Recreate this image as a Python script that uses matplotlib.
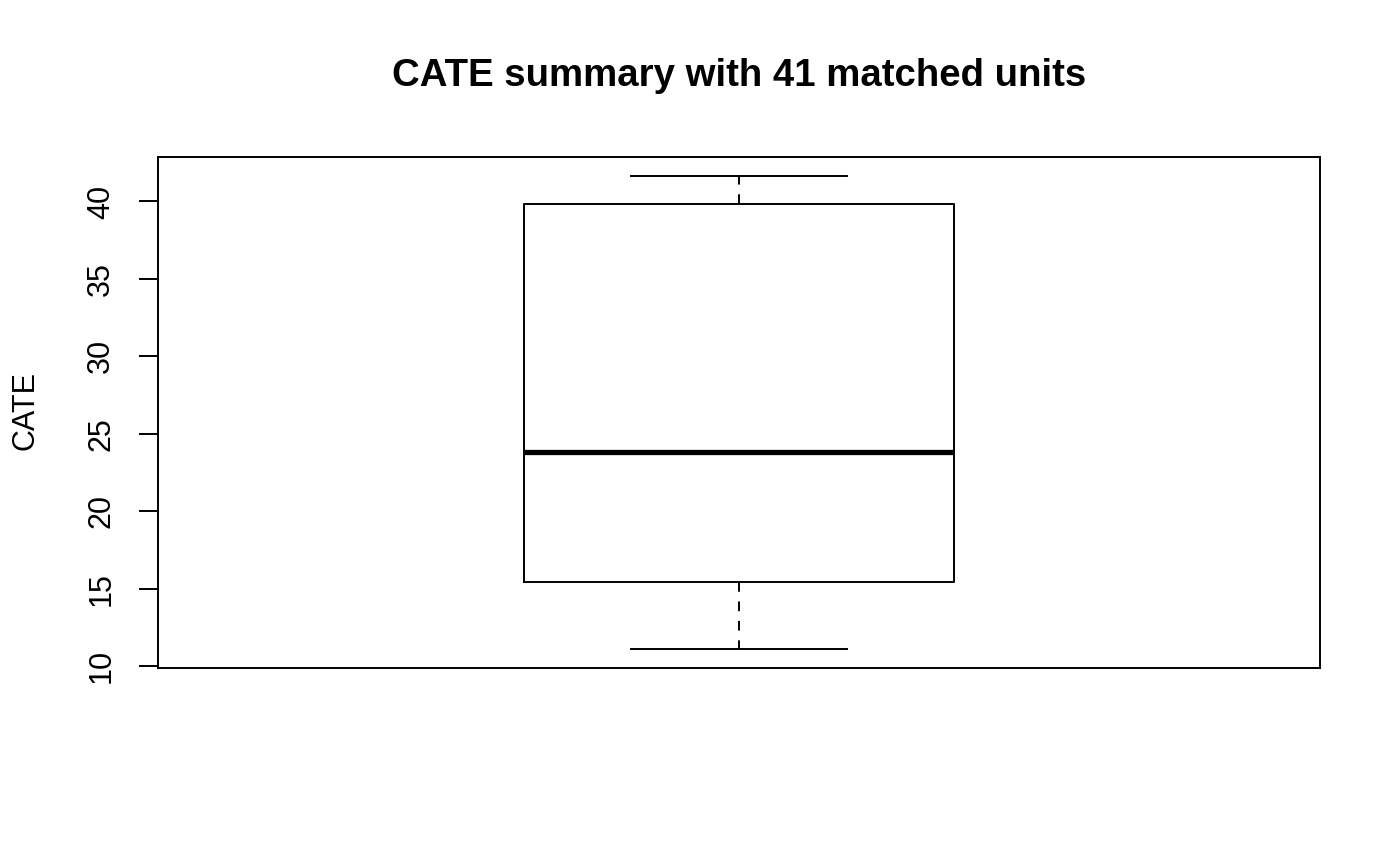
import matplotlib

matplotlib.use("Agg")

import matplotlib.pyplot as plt


# five-number summary of the CATE values
WHISKER_LOW = 11.1
Q1 = 15.45
MEDIAN = 23.8
Q3 = 39.85
WHISKER_HIGH = 41.65

Y_TICKS = [10, 15, 20, 25, 30, 35, 40]
N_UNITS = 41


def plot_cate_summary(out_path="out.png"):

    plt.rcParams["font.family"] = ["Liberation Sans", "DejaVu Sans"]

    fig = plt.figure(figsize=(14, 8.65), dpi=100)

    ax = fig.add_axes([158 / 1400, 1 - 668 / 865, 1162 / 1400, 511 / 865])

    stats = [{
        "whislo": WHISKER_LOW,
        "q1": Q1,
        "med": MEDIAN,
        "q3": Q3,
        "whishi": WHISKER_HIGH,
        "fliers": [],
    }]

    ax.bxp(
        stats,
        positions=[1],
        widths=0.4,
        showfliers=False,
        boxprops=dict(color="black", linewidth=1.4),
        whiskerprops=dict(color="black", linewidth=1.4, linestyle=(0, (5, 5))),
        capprops=dict(color="black", linewidth=1.4),
        medianprops=dict(color="black", linewidth=3.8, solid_capstyle="butt"),
        capwidths=0.2,
    )

    # R style limits: 4 % padding around the data
    span = WHISKER_HIGH - WHISKER_LOW
    ax.set_ylim(WHISKER_LOW - 0.04 * span, WHISKER_HIGH + 0.04 * span)
    ax.set_xlim(0.46, 1.54)

    ax.set_xticks([])
    ax.set_yticks(Y_TICKS)
    ax.set_yticklabels([str(t) for t in Y_TICKS], rotation=90, va="center")
    ax.tick_params(axis="y", length=13.5, width=1.4, pad=16.5, labelsize=22)

    for spine in ax.spines.values():
        spine.set_linewidth(1.4)

    ax.set_ylabel("CATE", fontsize=22)
    ax.yaxis.set_label_coords(-0.101, 0.504)

    ax.set_title(
        f"CATE summary with {N_UNITS} matched units",
        fontsize=27.6,
        fontweight="bold",
        pad=51,
    )

    fig.savefig(out_path, dpi=100)


if __name__ == "__main__":

    plot_cate_summary()
